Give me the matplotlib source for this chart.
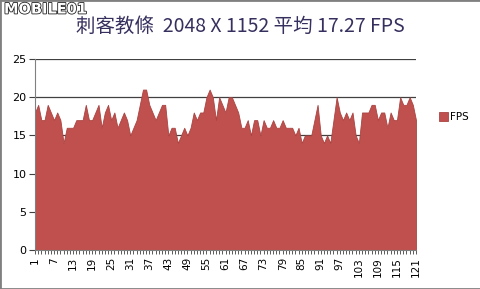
import numpy as np
import matplotlib
matplotlib.use("Agg")
import matplotlib.pyplot as plt
import matplotlib.patheffects as pe
from matplotlib.patches import Rectangle

plt.rcParams['font.family'] = ['DejaVu Sans']

seconds = list(range(1, 122))
fps = [18, 19, 17, 17, 19, 18, 17, 18, 17, 14,
       16, 16, 16, 17, 17, 17, 19, 17, 17, 18,
       19, 16, 18, 19, 17, 18, 16, 17, 18, 17,
       15, 16, 17, 19, 21, 21, 19, 18, 17, 18,
       19, 19, 15, 16, 16, 14, 15, 16, 15, 16,
       18, 17, 18, 18, 20, 21, 20, 17, 20, 19,
       18, 20, 20, 19, 18, 16, 16, 17, 15, 17,
       17, 15, 17, 16, 16, 17, 16, 16, 17, 16,
       16, 16, 15, 16, 14, 15, 15, 15, 17, 19,
       15, 14, 15, 14, 17, 20, 18, 17, 18, 17,
       18, 15, 14, 18, 18, 18, 19, 19, 17, 18,
       18, 16, 18, 17, 17, 20, 19, 19, 20, 19,
       17]
x_labels = list(range(1, 122, 6))
y_ticks = [0, 5, 10, 15, 20, 25]
title = "刺客教條  2048 X 1152 平均 17.27 FPS"

fig = plt.figure(figsize=(4.81, 2.89), dpi=100)
ax = fig.add_axes([35 / 481, 1 - 250 / 289, (416 - 35) / 481, (250 - 59) / 289])

ax.fill_between(seconds, fps, 0, color='#C0504D', edgecolor='#A94442', linewidth=0.6, zorder=2, label='FPS')

ax.set_xlim(1, 121)
ax.set_ylim(0, 25)
ax.set_yticks(y_ticks)
ax.set_xticks(x_labels)
ax.set_xticks(seconds, minor=True)
ax.set_xticklabels([str(v) for v in x_labels], rotation=90, fontsize=7.5)
ax.tick_params(axis='y', labelsize=8, length=4, width=0.8, color='#404040', pad=2)
ax.tick_params(axis='x', which='both', length=3, width=0.6, color='#404040', pad=2)
ax.grid(axis='y', color='#404040', linewidth=0.9, zorder=1)
for s in ['top', 'right']:
    ax.spines[s].set_visible(False)
for s in ['left', 'bottom']:
    ax.spines[s].set_color('#808080')
    ax.spines[s].set_linewidth(0.8)

leg = fig.legend(loc='center left', bbox_to_anchor=(430 / 481, 1 - 117 / 289), frameon=False,
                 fontsize=7.5, handlelength=0.8, handleheight=0.9, handletextpad=0.2)

fig.text(240 / 481, 1 - 26 / 289, title, ha='center', va='center', fontsize=14,
         color='#36305E', family=['Noto Sans CJK TC', 'DejaVu Sans'])

logo = fig.text(4 / 481, 1 - 9 / 289, "MOBILE01", ha='left', va='center', fontsize=10.5,
                fontweight='bold', color='white')
logo.set_path_effects([pe.Stroke(linewidth=1.2, foreground='#222222'), pe.Normal()])

fig.patches.append(Rectangle((0, 0), 1, 1, transform=fig.transFigure, fill=False,
                             edgecolor='#808080', linewidth=2))

fig.savefig('out.png', dpi=100)
